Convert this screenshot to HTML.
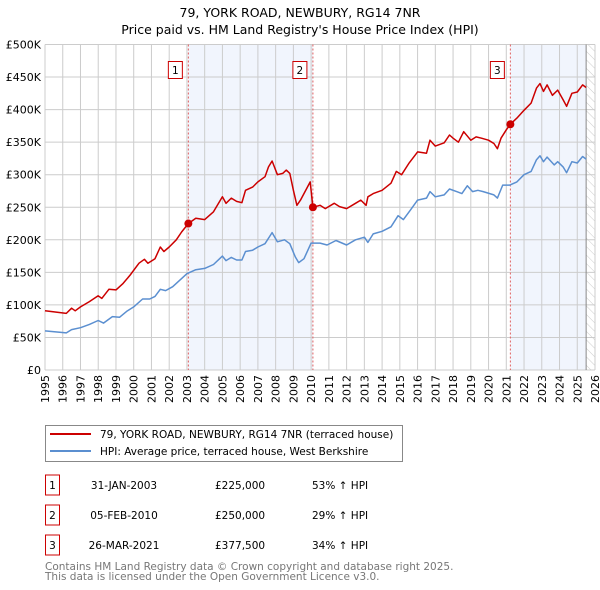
<!DOCTYPE html>
<html><head><meta charset="utf-8"><style>
body{margin:0;background:#fff;font-family:"DejaVu Sans","Liberation Sans",sans-serif;}
svg{display:block}
</style></head><body>
<svg id="c" width="600" height="590" xmlns="http://www.w3.org/2000/svg" font-family="DejaVu Sans, Liberation Sans, sans-serif">
<defs><pattern id="hatch" width="6" height="6" patternUnits="userSpaceOnUse" patternTransform="rotate(-45)"><line x1="0" y1="0" x2="0" y2="6" stroke="#ccc" stroke-width="1"/></pattern></defs>
<text x="300" y="17" text-anchor="middle" font-size="12.5">79, YORK ROAD, NEWBURY, RG14 7NR</text>
<text x="300" y="34" text-anchor="middle" font-size="12.5">Price paid vs. HM Land Registry's House Price Index (HPI)</text>
<g id="plot"></g>
<g>
<rect x="45.5" y="425.5" width="357" height="36" fill="#fff" stroke="#888"/>
<line x1="50" y1="434" x2="91" y2="434" stroke="#cc0000" stroke-width="2"/>
<text x="100" y="438" font-size="10.5">79, YORK ROAD, NEWBURY, RG14 7NR (terraced house)</text>
<line x1="50" y1="451" x2="91" y2="451" stroke="#5b8fd0" stroke-width="2"/>
<text x="100" y="455" font-size="10.5">HPI: Average price, terraced house, West Berkshire</text>
</g>
<g id="table" font-size="10.5"></g>
<text x="45" y="570" font-size="10.5" fill="#777">Contains HM Land Registry data © Crown copyright and database right 2025.</text>
<text x="45" y="580" font-size="10.5" fill="#777">This data is licensed under the Open Government Licence v3.0.</text>
</svg>
<script>
const yearTicks=[1995,1996,1997,1998,1999,2000,2001,2002,2003,2004,2005,2006,2007,2008,2009,2010,2011,2012,2013,2014,2015,2016,2017,2018,2019,2020,2021,2022,2023,2024,2025,2026];
const valueTicks=[0,50,100,150,200,250,300,350,400,450,500];
const valueLabels=["£0","£50K","£100K","£150K","£200K","£250K","£300K","£350K","£400K","£450K","£500K"];
const redT=[1995,1996.2,1996.5,1996.7,1997,1997.5,1998,1998.2,1998.6,1999,1999.4,1999.8,2000.3,2000.6,2000.8,2001.2,2001.5,2001.7,2002,2002.4,2002.7,2003.08,2003.5,2004,2004.5,2005,2005.2,2005.5,2005.8,2006.1,2006.3,2006.7,2007,2007.4,2007.6,2007.8,2008.1,2008.4,2008.6,2008.8,2009,2009.2,2009.4,2009.95,2010.1,2010.5,2010.8,2011.3,2011.6,2012,2012.5,2012.8,2013.1,2013.2,2013.5,2014,2014.5,2014.8,2015.1,2015.5,2016,2016.5,2016.7,2017,2017.5,2017.8,2018,2018.3,2018.6,2019,2019.3,2019.6,2020,2020.3,2020.5,2020.7,2021,2021.23,2021.6,2022,2022.4,2022.7,2022.9,2023.1,2023.3,2023.6,2023.9,2024.2,2024.4,2024.7,2025,2025.3,2025.5];
const redV=[91,87,95,91,97,105,114,110,124,123,133,146,164,170,164,171,189,182,189,200,212,225,233,231,243,266,256,264,259,257,276,281,289,297,312,321,300,302,307,302,276,253,261,289,250,253,248,256,251,248,256,261,253,266,271,276,287,305,300,317,335,333,353,344,349,361,356,350,366,353,358,356,353,348,340,356,369,377.5,387,399,410,433,440,428,438,422,430,415,405,425,427,438,434];
const blueT=[1995,1996.2,1996.5,1997,1997.5,1998,1998.3,1998.8,1999.2,1999.6,2000,2000.5,2000.9,2001.2,2001.5,2001.8,2002.2,2002.6,2003,2003.5,2004,2004.5,2005,2005.2,2005.5,2005.8,2006.1,2006.3,2006.7,2007,2007.4,2007.8,2008.1,2008.5,2008.8,2009.1,2009.3,2009.6,2010,2010.5,2010.9,2011.4,2012,2012.5,2013,2013.2,2013.5,2014,2014.5,2014.9,2015.2,2015.6,2016,2016.5,2016.7,2017,2017.5,2017.8,2018.2,2018.5,2018.8,2019.1,2019.4,2019.7,2020.3,2020.5,2020.8,2021.2,2021.6,2022,2022.4,2022.7,2022.9,2023.1,2023.3,2023.7,2023.9,2024.2,2024.4,2024.7,2025,2025.3,2025.5];
const blueV=[60,57,62,65,70,76,72,82,81,90,97,109,109,113,124,122,128,138,148,154,156,162,175,168,173,169,169,182,184,189,194,211,197,200,194,174,165,171,195,195,192,199,192,200,204,196,209,213,220,237,231,246,261,264,274,266,269,278,274,271,283,274,276,274,269,264,284,284,289,300,305,323,329,320,327,315,320,312,303,320,318,328,324];
const saleT=[2003.08,2010.1,2021.23];
const saleV=[225,250,377.5];
const saleLabels=["1","2","3"];
const saleDates=["31-JAN-2003","05-FEB-2010","26-MAR-2021"];
const salePrices=["£225,000","£250,000","£377,500"];
const saleHpi=["53% \u2191 HPI","29% \u2191 HPI","34% \u2191 HPI"];

const X0=45,X1=595,Y0=370,Y1=44.5,T0=1995,T1=2026,VMAX=500,DATAEND=2025.5;
const xs=t=>X0+(t-T0)/(T1-T0)*(X1-X0);
const ys=v=>Y0-v/VMAX*(Y0-Y1);
const NS="http://www.w3.org/2000/svg";
const plot=document.getElementById('plot');
function mk(tag,attrs,parent){const e=document.createElementNS(NS,tag);for(const k in attrs)e.setAttribute(k,attrs[k]);(parent||plot).appendChild(e);return e;}

// shaded regions between sales
for(let i=0;i<saleT.length;i++){
  const end=i%2===0?(i+1<saleT.length?saleT[i+1]:DATAEND):null;
  if(end===null)continue;
  const r=mk('rect',{x:xs(saleT[i]),y:Y1,width:xs(end)-xs(saleT[i]),height:Y0-Y1,fill:'#eef3fc',opacity:0.8});
  
  
}
// hatch future
const h=mk('rect',{x:xs(DATAEND),y:Y1,width:X1-xs(DATAEND),height:Y0-Y1,fill:'url(#hatch)'});


// grid
yearTicks.forEach(t=>{
  const l=mk('line',{x1:xs(t),x2:xs(t),y1:Y1,y2:Y0,stroke:'#ccc','stroke-width':1});
  
  
  const tx=mk('text',{x:0,y:0,'font-size':11,'text-anchor':'end',transform:`translate(${xs(t)+4},${Y0+5}) rotate(-90)`});
  tx.textContent=t;
  
  
});
valueTicks.forEach((v,i)=>{
  const l=mk('line',{x1:X0,x2:X1,y1:ys(v),y2:ys(v),stroke:'#ccc','stroke-width':1});
  
  
  const tx=mk('text',{x:41,y:ys(v)+4,'font-size':11,'text-anchor':'end'});
  tx.textContent=valueLabels[i];
  
  
});
const dl=mk('line',{x1:xs(DATAEND),x2:xs(DATAEND),y1:Y1,y2:Y0,stroke:'#888','stroke-width':1});


// sale markers
saleT.forEach((t,i)=>{
  const l=mk('line',{x1:xs(t),x2:xs(t),y1:Y1,y2:Y0,stroke:'#e06060','stroke-width':1,'stroke-dasharray':'2,2'});
  
  
  const g=mk('g',{});
  
  
  mk('rect',{x:xs(t)-20,y:61.5,width:14,height:17,fill:'#fff',stroke:'#cc0000'},g);
  const tx=mk('text',{x:xs(t)-13,y:74,'font-size':10.5,'text-anchor':'middle'},g);
  tx.textContent=saleLabels[i];
});
function line(T,V,color,name){
  const d=T.map((t,i)=>(i?'L':'M')+xs(t).toFixed(1)+','+ys(V[i]).toFixed(1)).join('');
  const p=mk('path',{d:d,fill:'none',stroke:color,'stroke-width':1.5,'stroke-linejoin':'round'});
  
  
}
line(blueT,blueV,'#5b8fd0','hpi-line');
line(redT,redV,'#cc0000','property-price-line');
saleT.forEach((t,i)=>{
  const c=mk('circle',{cx:xs(t),cy:ys(saleV[i]),r:4,fill:'#cc0000'});
  
  
});
// table
const tb=document.getElementById('table');
saleLabels.forEach((s,i)=>{
  const y=485+i*30;
  const g=mk('g',{},tb);
  
  
  mk('rect',{x:45.5,y:y-10,width:14,height:20,fill:'#fff',stroke:'#cc0000'},g);
  let t=mk('text',{x:52.5,y:y+4,'text-anchor':'middle'},g);t.textContent=s;
  t=mk('text',{x:124,y:y+4,'text-anchor':'middle'},g);t.textContent=saleDates[i];
  t=mk('text',{x:215,y:y+4},g);t.textContent=salePrices[i];
  t=mk('text',{x:312,y:y+4},g);t.textContent=saleHpi[i];
});
</script>
</body></html>
